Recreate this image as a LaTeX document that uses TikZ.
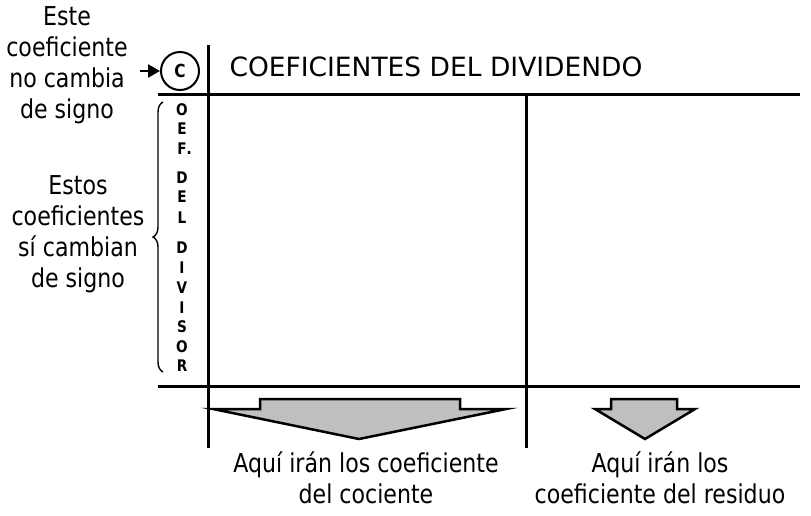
\documentclass[tikz,border=0pt]{standalone}
\usepackage{fontspec}
\setmainfont{DejaVu Sans}[FakeStretch=0.85]
\newfontfamily\headfont{DejaVu Sans}
\usetikzlibrary{arrows.meta}
\usetikzlibrary{decorations.pathreplacing}
\tikzset{
	every path/.style={line width=3pt},
	align=center,
	note/.style={
		inner sep=0pt,
		font=\fontsize{26}{31}\selectfont,
	},
	title/.style={
		inner sep=0pt,
		font=\headfont\fontsize{26.5}{30}\selectfont,
	},
	letter/.style={
		inner sep=0pt,
		font=\bfseries\fontsize{16}{16}\selectfont,
	},
	marker/.style={
		draw,
		circle,
		line width=2pt,
		minimum size=38pt,
		inner sep=0pt,
		font=\bfseries\fontsize{18}{18}\selectfont,
	},
	pointer/.style={
		line width=2.5pt,
		-{Triangle[length=12pt,width=13pt]}
	},
	bracket/.style={
		line width=1.4pt,
		decorate,
		decoration={brace,amplitude=10pt}
	},
	blockarrow/.style={
		draw,
		fill=black!25,
		line width=2.5pt,
		line join=miter,
	},
}

\begin{document}
\begin{tikzpicture}[x=1pt,y=-1pt]
		\useasboundingbox (0,0) rectangle (811,515);

		% table
		\draw (208,45) -- (208,448);
		\draw (158,94) -- (800,94);
		\draw (526,94) -- (526,448);
		\draw (158,386) -- (800,386);

		\node[title,anchor=west] (dividend) at (228,66.5) {COEFICIENTES DEL DIVIDENDO};
		\node[marker] (lead) at (180,71) {C};

		% divisor letters
		\foreach \ch/\y [count=\i] in {O/110,E/129,F\rlap{.}/149,D/178,E/197,L/218,D/248,I/268,V/288,I/308,S/327,O/347,R/366}
			\node[letter] (div\i) at (182,\y) {\ch};

		\node[note] (keep) at (67,65) {Este\\coeficiente\\no cambia\\de signo};
		\node[note] (change) at (78,234) {Estos\\coeficientes\\sí cambian\\de signo};
		\coordinate (tail) at (140,71);
		\draw[pointer] (tail) -- (lead.west);
		\draw[bracket] (163,372) -- (163,102);

		% arrows down
		\draw[blockarrow] (213,409) -- (260,409) -- (260,399) -- (460,399) -- (460,409) -- (506,409) -- (359,439) -- cycle;
		\draw[blockarrow] (595,409) -- (611,409) -- (611,399) -- (677,399) -- (677,409) -- (695,409) -- (645,439) -- cycle;

		\node[note] (quotient) at (366,478) {Aquí irán los coeficiente\\del cociente};
		\node[note] (remainder) at (660,478) {Aquí irán los\\coeficiente del residuo};

	\end{tikzpicture}
\end{document}
